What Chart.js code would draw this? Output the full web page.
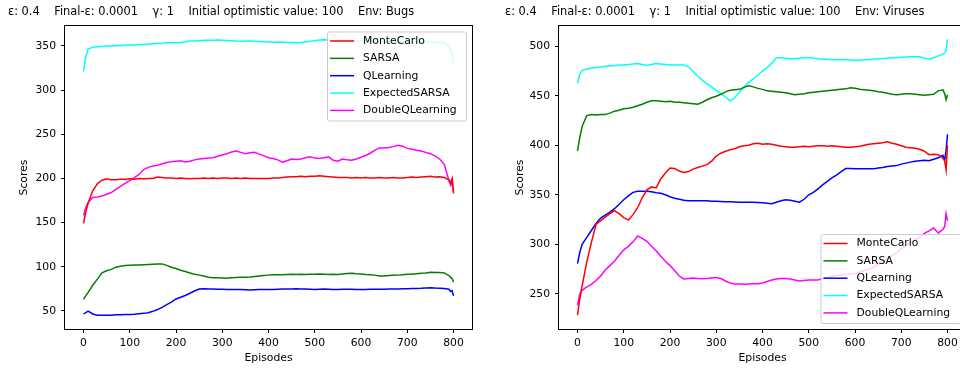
<!DOCTYPE html>
<html>
<head>
<meta charset="utf-8">
<script src="https://cdn.jsdelivr.net/npm/chart.js@4.4.1/dist/chart.umd.min.js"></script>
<style>
  html, body { margin: 0; padding: 0; background: #fff; }
  body { width: 960px; height: 372px; overflow: hidden; position: relative; }
  #bugs { position: absolute; left: 0; top: 0; }
  #viruses { position: absolute; left: 480px; top: 0; }
</style>
</head>
<body>
<canvas id="bugs" width="480" height="372"></canvas>
<canvas id="viruses" width="500" height="372"></canvas>
<script>
// shared data
var EPISODES = [0, 5, 10,
  20, 30, 40, 50, 60, 70, 80, 90, 100,
  110, 120, 130, 140, 150, 160, 170, 180, 190, 200,
  210, 220, 230, 240, 250, 260, 270, 280, 290, 300,
  310, 320, 330, 340, 350, 360, 370, 380, 390, 400,
  410, 420, 430, 440, 450, 460, 470, 480, 490, 500,
  510, 520, 530, 540, 550, 560, 570, 580, 590, 600,
  610, 620, 630, 640, 650, 660, 670, 680, 690, 700,
  710, 720, 730, 740, 750, 760, 770, 780, 790,
  794, 797, 800];

var ALGORITHMS = ['MonteCarlo', 'SARSA', 'QLearning', 'ExpectedSARSA', 'DoubleQLearning'];
var COLORS = ['#ff0000', '#008000', '#0000ff', '#00ffff', '#ff00ff'];
var X_TICKS = [0, 100, 200, 300, 400, 500, 600, 700, 800];

var PARAMS = 'ε: 0.4    Final-ε: 0.0001    γ: 1    Initial optimistic value: 100    Env: ';

// Env: Bugs
var bugsMonteCarlo = [149, 162, 172,
  186, 194, 198, 199.5, 198.5, 198.5, 199, 199, 199.5,
  199, 200, 199.5, 200, 200, 201.5, 201, 200.5, 200.5, 200,
  200.5, 200, 199.5, 200, 200, 200.5, 200, 200.5, 200, 200.5,
  200.5, 200, 200.5, 200, 200.5, 200, 200, 200, 200, 200,
  200.5, 200.5, 201, 201.5, 202, 202, 202.5, 202, 202.5, 202.5,
  203, 202.5, 202, 201.5, 201, 201, 201, 200.5, 201, 200.5,
  201, 200.5, 200.5, 201, 200.5, 200.5, 201, 200.5, 200.5, 201,
  201.5, 201, 201.5, 202, 202.5, 201.5, 202, 201, 198.5,
  195, 200, 183];
var bugsSarsa = [63, 67, 71,
  79, 86, 93, 95.5, 97, 99.5, 100.5, 101.5, 101.8,
  102, 102, 102.3, 102.5, 102.8, 103, 103.2, 101.5, 99.5, 98,
  96, 94.5, 93, 91.5, 90.5, 89.5, 88, 87.5, 87.5, 87.2,
  87, 87.5, 87.8, 88, 88.2, 88.5, 89, 89.5, 90, 90.5,
  90.8, 91, 91, 91.2, 91.5, 91.2, 91.5, 91.3, 91.5, 91.5,
  91.8, 91.5, 91.3, 91.5, 91.3, 91.8, 92.3, 92.5, 92, 91.8,
  91.3, 91, 90.5, 89.5, 89.5, 90, 90.3, 90.5, 91, 91.5,
  91.5, 92, 92.5, 93, 93.8, 93.5, 93.5, 93, 90,
  88, 86.5, 82.5];
var bugsQLearning = [46.6, 48, 49.8,
  46.5, 45.2, 45, 45.2, 45.2, 45.5, 45.5, 45.8, 45.8,
  46.2, 46.8, 47.2, 48, 49.5, 51.5, 54, 57, 60, 63.5,
  65.5, 67.5, 70, 72.5, 74.8, 75, 74.8, 74.8, 74.5, 74.5,
  74.3, 74.3, 74.2, 74.2, 74, 73.8, 74, 74.2, 74.2, 74.2,
  74.3, 74.5, 74.7, 74.8, 74.8, 75, 74.9, 74.8, 74.6, 74.3,
  74.5, 74.8, 74.6, 74.3, 74.2, 74.4, 74.6, 74.5, 74.3, 74.2,
  74.3, 74.4, 74.5, 74.6, 74.6, 74.7, 74.8, 74.8, 75, 75.2,
  75.3, 75.4, 75.6, 76, 76.2, 75.8, 75.6, 75.4, 74.5,
  72, 73, 67];
var bugsExpectedSarsa = [321, 338, 346.5,
  348.5, 349, 349.5, 350, 349.8, 350.2, 350.5, 350.8, 351,
  351.2, 351.5, 351.5, 352, 352.5, 352.8, 353, 353.5, 353.5, 353.5,
  354, 354.5, 355.5, 355.5, 356, 356.5, 356.5, 356.5, 356.8, 356.5,
  356.3, 356, 355.5, 355.3, 355.5, 355.5, 355.3, 355, 354.8, 354.5,
  354.3, 354.5, 354.2, 354, 353.8, 353.5, 353.8, 354.5, 355.2, 356,
  356.6, 357, 356.8, 356.5, 356.2, 356, 355.8, 355.8, 355.5, 355.5,
  355.4, 355.2, 355, 354.8, 354.8, 354.6, 354.5, 354.4, 354.4, 354.5,
  354.5, 354.3, 354.3, 354.5, 354.5, 354.2, 354, 353.5, 350,
  345, 340, 330];
var bugsDoubleQLearning = [158, 167, 173,
  178.5, 179, 180, 182, 184, 187.5, 191, 194.5, 197.5,
  201, 204.5, 210, 212.5, 214, 215, 216.5, 218, 219, 219.5,
  220, 218.5, 219.5, 221, 222, 222.5, 223, 223.5, 225, 226.5,
  228, 230, 231, 229.5, 228, 229, 229.5, 227.5, 225.5, 223.5,
  222.5, 221, 218.5, 220, 222, 221.5, 222, 223.5, 224.5, 223,
  222.5, 223.5, 224.5, 220.5, 219.5, 222, 221, 220.5, 222, 224,
  226, 228.5, 232, 234.5, 234.5, 235, 236, 237.5, 236.5, 234,
  233, 232, 231, 229.5, 228, 225.5, 222, 216, 198,
  192, 197, 185];

// Env: Viruses
var virusesMonteCarlo = [228.5, 245, 258,
  282, 302, 320, 324, 327.5, 331, 334, 331, 327,
  324.5, 330, 337, 347, 355, 358, 357, 366, 372, 377,
  376.5, 374, 372.5, 373.5, 376, 377.5, 379, 380.5, 384, 389,
  392, 394, 395.5, 396.5, 398.5, 399.5, 400, 401.5, 402, 401,
  401.5, 401, 400, 399, 398.5, 398, 398, 398.5, 399, 398.5,
  399, 399.5, 399.5, 399, 399.5, 399, 398.5, 398, 398, 398.5,
  399, 400, 401, 401.5, 402, 402.5, 403.5, 402, 401, 399.5,
  398, 397.5, 397, 396, 394, 390.5, 391, 390.5, 387,
  384, 375, 400];
var virusesSarsa = [394.5, 408, 419,
  430, 431, 430.5, 431, 431, 432.5, 434.5, 435.5, 437,
  437.5, 438.5, 440, 441.5, 443.5, 445, 445, 444.5, 444, 444.5,
  443.5, 443.5, 443, 442.5, 442, 441.5, 443.5, 446, 448, 449.5,
  451.5, 454, 455.5, 456, 456.5, 458.5, 460, 459, 457.5, 456.5,
  455, 454.5, 454, 453.5, 453, 452, 451, 451.5, 452, 453,
  453.5, 454, 454.5, 455, 455.5, 456, 456.5, 457, 458, 457.5,
  456.5, 456, 455.5, 455, 454, 453.5, 452.5, 451.5, 451, 451.5,
  452, 452, 451.5, 451, 450.5, 451, 451.5, 455, 456,
  452, 446, 451];
var virusesQLearning = [280.5, 292, 300,
  307, 314, 321, 326.5, 329.5, 332.5, 336, 340.5, 345,
  349, 352.5, 353.5, 353.7, 353.5, 353, 352, 351.5, 350, 348,
  346.5, 345.5, 344.5, 344, 344, 344, 344, 344, 343.5, 343.5,
  343.3, 343, 343, 342.8, 342.6, 342.5, 342.4, 342.6, 342.3, 342,
  341.5, 341, 342.5, 344, 345, 344.5, 343.5, 342.5, 345.5, 350,
  352.5, 356, 360, 363.5, 367, 370, 373.5, 376.5, 376.5, 376.3,
  376.3, 376.2, 376.2, 376.2, 377, 377.5, 378.5, 379, 379.5, 381,
  382, 383, 384, 384.5, 385, 384.5, 386, 387.5, 390,
  385, 395, 411];
var virusesExpectedSarsa = [462.5, 472, 475.5,
  477, 477.8, 478.5, 479, 479.8, 480.2, 480.5, 481, 481.2,
  481.5, 482, 482.5, 481.5, 480.5, 481.5, 482.5, 482, 481.5, 481.2,
  481.2, 481.2, 481, 479, 474.5, 470, 465.5, 462, 459, 455.5,
  452.5, 448.5, 445, 448, 453.5, 459, 463.5, 467, 471, 475,
  478.5, 483, 488.5, 488.3, 488, 487.5, 487.5, 488, 488.5, 488.5,
  488, 487.5, 487, 487, 486.5, 486.5, 486.5, 486.3, 486.2, 486,
  486, 486.5, 486.5, 487, 487.5, 487.5, 488, 488.5, 488.5, 489,
  489.2, 489.5, 489.5, 489.5, 488, 487, 488.5, 490.3, 492,
  493.5, 496, 507];
var virusesDoubleQLearning = [238.5, 250, 253.5,
  257, 259.5, 263.5, 268, 274, 278.5, 283, 289, 294.5,
  298, 302.5, 308.5, 306, 303, 298, 293.5, 288, 283, 278.5,
  273.5, 268, 265, 265.5, 266, 265.5, 265.2, 265.5, 266, 266.5,
  265.5, 263, 261, 260, 260, 259.8, 260, 260.2, 260.3, 261,
  262.5, 264, 265, 265.5, 265.5, 265, 264, 263, 263.5, 264,
  264, 264, 265.5, 266.5, 267.5, 268.5, 269, 269.8, 270, 270.5,
  272, 273.5, 275, 277, 279.5, 282.5, 285.5, 288.5, 291.5, 295.5,
  298.5, 302, 304.5, 307.5, 311, 313.5, 316.5, 311.5, 315,
  318, 331, 324];

var bugsYTicks = [50, 100, 150, 200, 250, 300, 350];
var virusesYTicks = [250, 300, 350, 400, 450, 500];

Chart.defaults.font.family = "'DejaVu Sans', sans-serif";
Chart.defaults.font.size = 10.8;
Chart.defaults.color = '#000';

// matplotlib-like frame around the axes
var framePlugin = {
    id: 'frame',
    afterDatasetsDraw: function (chart) {
        var a = chart.chartArea;
        var ctx = chart.ctx;
        ctx.save();
        ctx.strokeStyle = '#000';
        ctx.lineWidth = 1;
        ctx.strokeRect(Math.round(a.left) - 0.5, Math.round(a.top) - 0.5,
            Math.round(a.right - a.left) + 1, Math.round(a.bottom - a.top) + 1);
        ctx.restore();
    }
};

// legend box drawn inside the axes, like the matplotlib one
function legendPlugin(box) {
    return {
        id: 'boxLegend',
        afterDraw: function (chart) {
            var ctx = chart.ctx;
            ctx.save();
            ctx.beginPath();
            ctx.roundRect(box.x + 0.5, box.y + 0.5, box.w, box.h, 2);
            ctx.fillStyle = 'rgba(255,255,255,0.8)';
            ctx.fill();
            ctx.strokeStyle = '#cccccc';
            ctx.lineWidth = 1;
            ctx.stroke();
            ctx.font = "10.8px 'DejaVu Sans'";
            ctx.textBaseline = 'middle';
            chart.data.datasets.forEach(function (ds, i) {
                var y = box.y + 9.5 + i * 17.35;
                ctx.strokeStyle = ds.borderColor;
                ctx.lineWidth = 1.5;
                ctx.beginPath();
                ctx.moveTo(box.x + 3, y);
                ctx.lineTo(box.x + 27, y);
                ctx.stroke();
                ctx.fillStyle = '#000';
                ctx.fillText(ds.label, box.x + 36, y);
            });
            ctx.restore();
        }
    };
}

function buildChart(id, env, series, yMin, yMax, yTicks, lay, box) {
    var datasets = ALGORITHMS.map(function (name, i) {
        return {
            label: name,
            data: EPISODES.map(function (ep, j) { return { x: ep, y: series[i][j] }; }),
            borderColor: COLORS[i],
            borderWidth: 1.5,
            pointRadius: 0,
            fill: false,
            tension: 0
        };
    });

    return new Chart(document.getElementById(id), {
        type: 'line',
        data: { datasets: datasets },
        plugins: [framePlugin, legendPlugin(box)],
        options: {
            responsive: false,
            animation: false,
            devicePixelRatio: 1,
            layout: { padding: { left: lay.left, right: lay.right, top: 0, bottom: 0 } },
            plugins: {
                legend: { display: false },
                tooltip: { enabled: false },
                title: {
                    display: true,
                    text: PARAMS + env,
                    align: 'start',
                    color: '#000',
                    font: { size: 11.4, weight: 'normal' },
                    padding: { top: 5, bottom: 7.3 }
                }
            },
            scales: {
                x: {
                    type: 'linear',
                    min: -40,
                    max: 840,
                    afterBuildTicks: function (s) { s.ticks = X_TICKS.map(function (v) { return { value: v }; }); },
                    afterFit: function (s) { s.height = 43; },
                    border: { display: false },
                    grid: { drawOnChartArea: false, tickLength: 4, tickColor: '#000' },
                    ticks: { padding: 4, maxRotation: 0 },
                    title: { display: true, text: 'Episodes', padding: { top: 0, bottom: 7.5 } }
                },
                y: {
                    type: 'linear',
                    min: yMin,
                    max: yMax,
                    afterBuildTicks: function (s) { s.ticks = yTicks.map(function (v) { return { value: v }; }); },
                    afterFit: function (s) { s.width = lay.yWidth; },
                    border: { display: false },
                    grid: { drawOnChartArea: false, tickLength: 4, tickColor: '#000' },
                    ticks: { padding: 5 },
                    title: { display: true, text: 'Scores', padding: { top: lay.yTitlePad, bottom: 0 } }
                }
            }
        }
    });
}

buildChart('bugs', 'Bugs',
    [bugsMonteCarlo, bugsSarsa, bugsQLearning, bugsExpectedSarsa, bugsDoubleQLearning],
    29.5, 372.6, bugsYTicks,
    { left: 8, right: 8, yWidth: 57, yTitlePad: 9.5 },
    { x: 327, y: 31.5, w: 139, h: 89 });

buildChart('viruses', 'Viruses',
    [virusesMonteCarlo, virusesSarsa, virusesQLearning, virusesExpectedSarsa, virusesDoubleQLearning],
    214.5, 520.5, virusesYTicks,
    { left: 25, right: 14, yWidth: 54, yTitlePad: 8.5 },
    { x: 340.5, y: 234, w: 140, h: 89 });
</script>
</body>
</html>
